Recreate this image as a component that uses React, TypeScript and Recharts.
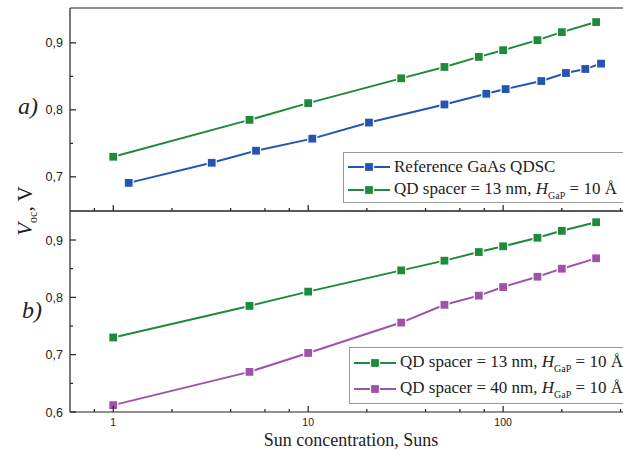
import React from 'react';
import { LineChart, Line, XAxis, YAxis, Legend } from 'recharts';

// sun concentration (Suns) and Voc (V)
const concGreen = [1, 5, 10, 30, 50, 75, 100, 150, 200, 300];
const vocGreen = [0.73, 0.785, 0.81, 0.847, 0.864, 0.879, 0.889, 0.904, 0.916, 0.931];

const concBlue = [1.2, 3.2, 5.4, 10.5, 20.5, 50, 82, 103, 157, 210, 264, 318];
const vocBlue = [0.691, 0.721, 0.739, 0.757, 0.781, 0.808, 0.824, 0.831, 0.843, 0.855, 0.861, 0.869];

const concPurple = [1, 5, 10, 30, 50, 75, 100, 150, 200, 300];
const vocPurple = [0.612, 0.67, 0.703, 0.756, 0.787, 0.803, 0.818, 0.836, 0.85, 0.868];

const xTicks = [0.8, 1, 2, 4, 6, 8, 10, 20, 40, 60, 80, 100, 200, 400];
const xLabeled = [1, 10, 100];
const yTicksTop = [0.7, 0.75, 0.8, 0.85, 0.9];
const yTicksBottom = [0.6, 0.65, 0.7, 0.75, 0.8, 0.85, 0.9];
const yLabeled = [0.6, 0.7, 0.8, 0.9];

const BLUE = '#2356b0';
const GREEN = '#1e8a3c';
const PURPLE = '#a052a8';

const toRows = (xs: number[], ys: number[]) => xs.map((x, i) => ({ x, y: ys[i] }));
const greenRows = toRows(concGreen, vocGreen);
const blueRows = toRows(concBlue, vocBlue);
const purpleRows = toRows(concPurple, vocPurple);

const W = 623;
const H = 450;
const X_DOMAIN: [number, number] = [0.6, 412];
const SANS = '"Liberation Sans", Arial, sans-serif';
const SERIF = '"Liberation Serif", "Times New Roman", serif';
const AXIS = { stroke: '#222', strokeWidth: 1.2 };

const isMajor = (v: number, list: number[]) => list.some(m => Math.abs(m - v) < 1e-6);

const XTick = (dir: number, showLabel: boolean) => (props: any) => {
  const { x, y, payload } = props;
  const major = isMajor(payload.value, xLabeled);
  const len = major ? 6 : 3;
  return (
    <g>
      <line x1={x} x2={x} y1={y} y2={y + dir * len} stroke="#222" strokeWidth={1.2} />
      {showLabel && major && (
        <text x={x} y={y + 14} textAnchor="middle" fontFamily={SANS} fontSize={10.5} fill="#222">
          {payload.value}
        </text>
      )}
    </g>
  );
};

const YTick = (props: any) => {
  const { x, y, payload } = props;
  const major = isMajor(payload.value, yLabeled);
  const len = major ? 6 : 3;
  return (
    <g>
      <line x1={x} x2={x + len} y1={y} y2={y} stroke="#222" strokeWidth={1.2} />
      {major && (
        <text x={x - 7} y={y} dy="0.36em" textAnchor="end" fontFamily={SANS} fontSize={12.5} fill="#222">
          {payload.value.toFixed(1).replace('.', ',')}
        </text>
      )}
    </g>
  );
};

const squareDot = (color: string) => (p: any) => (
  <rect key={p.index} x={p.cx - 4.5} y={p.cy - 4.5} width={9} height={9} fill={color} stroke="#fff" strokeWidth={1.2} />
);

const LegendLabel = ({ text }: { text: string }) => {
  if (text === 'ref') return <span>Reference GaAs QDSC</span>;
  return (
    <span>
      QD spacer = {text} nm, <i>H</i>
      <sub style={{ fontSize: 10, verticalAlign: '-5px' }}>GaP</sub> = 10 Å
    </span>
  );
};

const LegendBox = ({ items, rowH }: { items: { color: string; text: string }[]; rowH: number }) => (
  <div
    style={{
      border: '1px solid #9a9a9a',
      background: '#fff',
      fontFamily: SERIF,
      fontSize: 17,
      color: '#222',
      padding: '2px 0 1px 4px',
      boxSizing: 'border-box',
    }}
  >
    {items.map((it, i) => (
      <div key={i} style={{ display: 'flex', alignItems: 'center', height: rowH, whiteSpace: 'nowrap' }}>
        <svg width={42} height={12} style={{ marginRight: 4 }}>
          <line x1={0} x2={42} y1={6} y2={6} stroke={it.color} strokeWidth={2} />
          <rect x={16.5} y={1.5} width={9} height={9} fill={it.color} stroke="#fff" strokeWidth={1.2} />
        </svg>
        <LegendLabel text={it.text} />
      </div>
    ))}
  </div>
);

const abs: React.CSSProperties = { position: 'absolute', left: 0, top: 0 };

export default function App() {
  return (
    <div style={{ position: 'absolute', left: 0, top: 0, width: W, height: H, background: '#fff' }}>
      <div style={abs}>
        <LineChart width={W} height={H} margin={{ top: 7, right: 0, left: 0, bottom: H - 212 }}>
          <XAxis
            dataKey="x"
            type="number"
            scale="log"
            domain={X_DOMAIN}
            allowDataOverflow
            ticks={xTicks}
            interval={0}
            height={1}
            tickSize={0}
            tickMargin={0}
            tick={XTick(-1, false)}
            axisLine={AXIS}
            tickLine={false}
          />
          <XAxis
            xAxisId="top"
            orientation="top"
            type="number"
            scale="log"
            domain={X_DOMAIN}
            allowDataOverflow
            height={1}
            tick={false}
            tickLine={false}
            axisLine={AXIS}
          />
          <YAxis
            type="number"
            domain={[0.649, 0.952]}
            allowDataOverflow
            ticks={yTicksTop}
            interval={0}
            width={70}
            tickSize={0}
            tickMargin={0}
            tick={YTick}
            tickLine={false}
            axisLine={AXIS}
          />
          <Line data={blueRows} dataKey="y" stroke={BLUE} strokeWidth={2} dot={squareDot(BLUE)} isAnimationActive={false} />
          <Line data={greenRows} dataKey="y" stroke={GREEN} strokeWidth={2} dot={squareDot(GREEN)} isAnimationActive={false} />
          <Legend
            layout="vertical"
            align="center"
            verticalAlign="middle"
            wrapperStyle={{ left: 343, top: 152, width: 290 }}
            content={() => (
              <LegendBox
                rowH={23}
                items={[
                  { color: BLUE, text: 'ref' },
                  { color: GREEN, text: '13' },
                ]}
              />
            )}
          />
        </LineChart>
      </div>
      <div style={abs}>
        <LineChart width={W} height={H} margin={{ top: 210, right: 0, left: 0, bottom: H - 413 }}>
          <XAxis
            dataKey="x"
            type="number"
            scale="log"
            domain={X_DOMAIN}
            allowDataOverflow
            ticks={xTicks}
            interval={0}
            height={1}
            tickSize={0}
            tickMargin={0}
            tick={XTick(-1, true)}
            axisLine={AXIS}
            tickLine={false}
          />
          <XAxis
            xAxisId="top"
            orientation="top"
            type="number"
            scale="log"
            domain={X_DOMAIN}
            allowDataOverflow
            ticks={xTicks}
            interval={0}
            height={1}
            tickSize={0}
            tickMargin={0}
            tick={XTick(1, false)}
            tickLine={false}
            axisLine={AXIS}
          />
          <YAxis
            type="number"
            domain={[0.6, 0.9506]}
            allowDataOverflow
            ticks={yTicksBottom}
            interval={0}
            width={70}
            tickSize={0}
            tickMargin={0}
            tick={YTick}
            tickLine={false}
            axisLine={AXIS}
          />
          <Line data={greenRows} dataKey="y" stroke={GREEN} strokeWidth={2} dot={squareDot(GREEN)} isAnimationActive={false} />
          <Line data={purpleRows} dataKey="y" stroke={PURPLE} strokeWidth={2} dot={squareDot(PURPLE)} isAnimationActive={false} />
          <Legend
            layout="vertical"
            align="center"
            verticalAlign="middle"
            wrapperStyle={{ left: 349, top: 347, width: 290 }}
            content={() => (
              <LegendBox
                rowH={26}
                items={[
                  { color: GREEN, text: '13' },
                  { color: PURPLE, text: '40' },
                ]}
              />
            )}
          />
        </LineChart>
      </div>
      <svg width={W} height={H} style={{ ...abs, pointerEvents: 'none' }}>
        <text x={18} y={114} fontFamily={SERIF} fontStyle="italic" fontSize={24} fill="#222">
          a)
        </text>
        <text x={22} y={318} fontFamily={SERIF} fontStyle="italic" fontSize={24} fill="#222">
          b)
        </text>
        <text transform="translate(32,211) rotate(-90)" textAnchor="middle" fontFamily={SERIF} fontSize={21} fill="#222">
          <tspan fontStyle="italic">V</tspan>
          <tspan fontSize={12} dy={5}>oc</tspan>
          <tspan dy={-5}>, V</tspan>
        </text>
        <text x={351} y={446} textAnchor="middle" fontFamily={SERIF} fontSize={18} fill="#222">
          Sun concentration, Suns
        </text>
      </svg>
    </div>
  );
}
